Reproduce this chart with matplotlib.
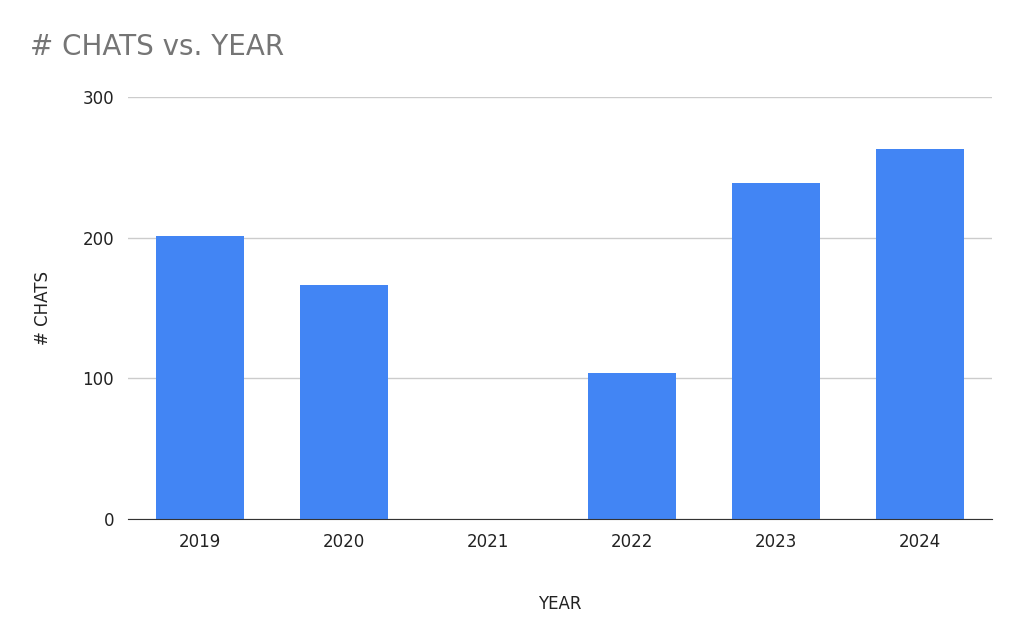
import matplotlib
matplotlib.use("Agg")
import matplotlib.pyplot as plt

years = ["2019", "2020", "2021", "2022", "2023", "2024"]
chats = [201, 166, 0, 104, 239, 263]

W, H = 1024, 633
fig = plt.figure(figsize=(W/100, H/100), dpi=100)
ax = fig.add_axes([128/W, 1-519/H, 864/W, 422/H])
x = range(len(years))
ax.bar(x, chats, width=0.61, color="#4285F4", zorder=3)
ax.set_xlim(-0.5, len(years)-0.5)
ax.set_ylim(0, 300)
ax.set_yticks([0, 100, 200, 300])
ax.set_xticks(list(x))
ax.set_xticklabels(years)
ax.grid(axis="y", color="#cccccc", linewidth=1, zorder=0)
for s in ["top", "right", "left"]:
    ax.spines[s].set_visible(False)
ax.spines["bottom"].set_color("#333333")
ax.spines["bottom"].set_zorder(4)
ax.tick_params(axis="both", length=0, labelsize=12, colors="#222222", pad=10)
ax.tick_params(axis="y", pad=10)
ax.set_xlabel("YEAR", fontsize=12, color="#222222", labelpad=32)
ax.set_ylabel("# CHATS", fontsize=12, color="#222222", labelpad=22)
fig.text(30/W, 1-47/H, "# CHATS vs. YEAR", fontsize=20, color="#757575", va="center")
fig.savefig("out.png", dpi=100)
